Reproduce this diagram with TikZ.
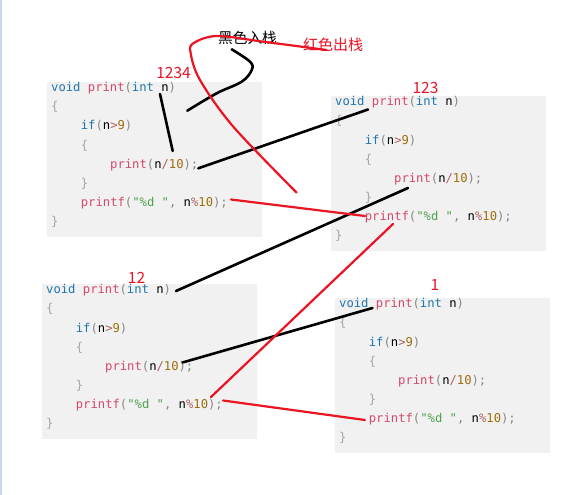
\documentclass[tikz,border=0pt]{standalone}
\usepackage{fontspec}
\setmonofont{DejaVu Sans Mono}
\newfontfamily\cjk{Noto Sans CJK SC}
\usetikzlibrary{calc}
\definecolor{ckwc}{RGB}{32,118,170}
\definecolor{cfnc}{RGB}{214,72,104}
\definecolor{cpuc}{RGB}{135,135,135}
\definecolor{cbrc}{RGB}{165,165,165}
\definecolor{cnmc}{RGB}{158,110,10}
\definecolor{cstc}{RGB}{80,160,80}
\definecolor{copc}{RGB}{175,95,95}
\definecolor{boxgray}{RGB}{241,241,241}
\definecolor{redink}{RGB}{235,20,35}
\definecolor{edgeblue}{RGB}{200,215,235}
\newcommand\ckw[1]{\textcolor{ckwc}{#1}}
\newcommand\cfn[1]{\textcolor{cfnc}{#1}}
\newcommand\cpu[1]{\textcolor{cpuc}{#1}}
\newcommand\cbr[1]{\textcolor{cbrc}{#1}}
\newcommand\cnm[1]{\textcolor{cnmc}{#1}}
\newcommand\cst[1]{\textcolor{cstc}{#1}}
\newcommand\cop[1]{\textcolor{copc}{#1}}
\newcommand\codebox[3]{%
 \node[cbox] (#1) at (#2,#3) {};
 \node[cl] (#1a) at ($(#1.north west)+(4,9.8)$) {\ckw{void} \cfn{print}\cpu{(}\ckw{int} n\cpu{)}};
 \node[cl] (#1b) at ($(#1.north west)+(4,28.9)$) {\cbr{\{}};
 \node[cl] (#1c) at ($(#1.north west)+(33.7,48)$) {\ckw{if}\cpu{(}n\cop{>}\cnm{9}\cpu{)}};
 \node[cl] (#1d) at ($(#1.north west)+(33.7,67.1)$) {\cbr{\{}};
 \node[cl] (#1e) at ($(#1.north west)+(63,86.2)$) {\cfn{print}\cpu{(}n\cop{/}\cnm{10}\cpu{);}};
 \node[cl] (#1f) at ($(#1.north west)+(33.7,105.3)$) {\cbr{\}}};
 \node[cl] (#1g) at ($(#1.north west)+(33.7,124.4)$) {\cfn{printf}\cpu{(}\cst{"\%d "}\cpu{,} n\cop{\%}\cnm{10}\cpu{);}};
 \node[cl] (#1h) at ($(#1.north west)+(4,143.5)$) {\cbr{\}}};
}
\begin{document}
\begin{tikzpicture}[x=1pt,y=-1pt,
  cbox/.style={anchor=north west,fill=boxgray,minimum width=215pt,minimum height=155pt,inner sep=0pt},
  cl/.style={anchor=base west,inner sep=0pt,font=\fontsize{12.2}{14}\selectfont\ttfamily},
  rlab/.style={inner sep=0pt,text=redink,font=\fontsize{15.5}{16}\selectfont\cjk},
  blk/.style={black,line width=2.6pt,line cap=round},
  rdl/.style={redink,line width=2.2pt,line cap=round}]
\fill[white] (0,0) rectangle (571,495);
\useasboundingbox (0,0) rectangle (571,495);
\draw[edgeblue,line width=2pt] (1,0) -- (1,495);
\codebox{b1}{47}{82}
\codebox{b2}{331}{96}
\codebox{b3}{42}{284}
\codebox{b4}{335}{298}
% labels
\node[rlab] (l1234) at (173.5,72.5) {1234};
\node[rlab] (l123) at (425.5,88) {123};
\node[rlab] (l12) at (136.5,277.5) {12};
\node[rlab] (l1) at (435,285) {1};
\node[inner sep=0pt,font=\fontsize{14.7}{15}\selectfont\cjk] (push) at (247.5,38.3) {黑色入栈};
\node[inner sep=0pt,text=redink,font=\fontsize{15}{15}\selectfont\cjk] (pop) at (333,45) {红色出栈};
% coordinates
\coordinate (kA1) at (231.7,49.3);
\coordinate (kA2) at (187.3,110.7);
\coordinate (kB1) at (160,94);
\coordinate (kB2) at (172.7,151);
\coordinate (kC1) at (198.3,168.3);
\coordinate (kC2) at (368,109.5);
\coordinate (kE1) at (176,291);
\coordinate (kE2) at (408,188);
\coordinate (kG1) at (182.5,362.5);
\coordinate (kG2) at (372.5,308);
\coordinate (rR1) at (326.7,50);
\coordinate (rR2) at (296.7,192.7);
\coordinate (rD1) at (231,199.5);
\coordinate (rD2) at (365,216);
\coordinate (rF1) at (393,224);
\coordinate (rF2) at (211,397);
\coordinate (rH1) at (223,400.5);
\coordinate (rH2) at (365,420);
% black (push)
\draw[blk] plot[smooth,tension=0.6] coordinates {(kA1) (250,61.7) (251.7,70) (241.7,81.7) (216.7,93.3) (kA2)};
\draw[blk] (kB1) -- (kB2);
\draw[blk] (kC1) -- (kC2);
\draw[blk] (kE1) -- (kE2);
\draw[blk] (kG1) -- (kG2);
% red (pop)
\draw[rdl] plot[smooth,tension=0.55] coordinates {(rR1) (263.3,41.7) (216.7,36) (193.3,43.3) (190.7,53.3) (200,80) (233.3,126.7) (rR2)};
\draw[rdl] (rD1) -- (rD2);
\draw[rdl] (rF1) -- (rF2);
\draw[rdl] (rH1) -- (rH2);
\end{tikzpicture}
\end{document}
